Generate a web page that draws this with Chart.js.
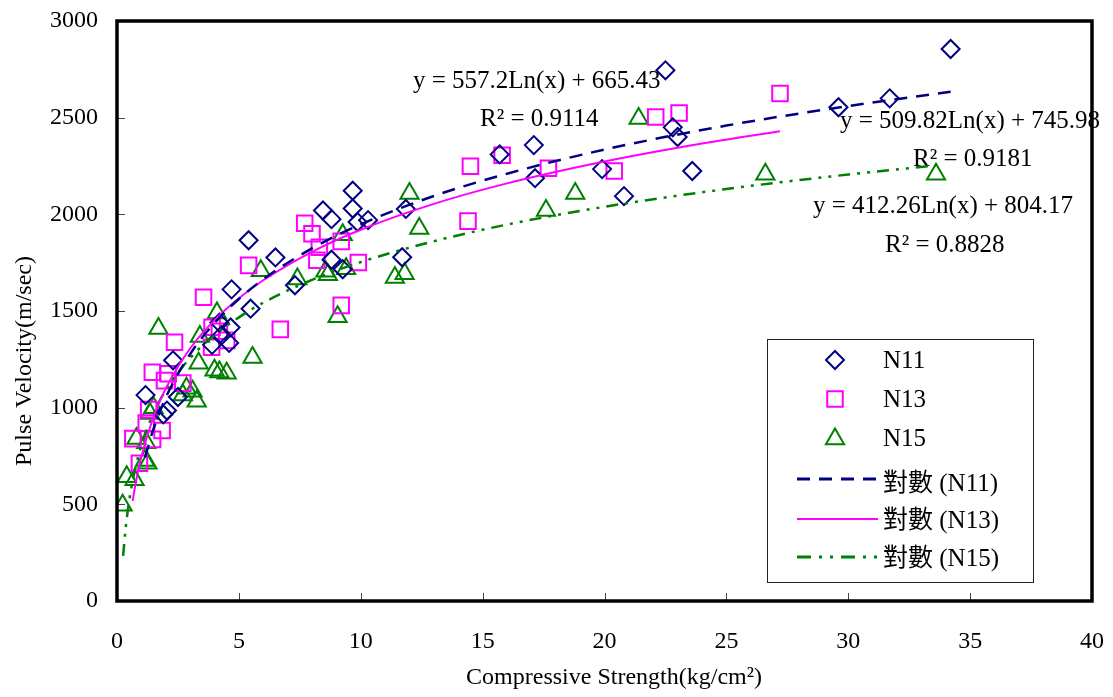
<!DOCTYPE html>
<html lang="zh-Hant">
<head>
  <meta charset="UTF-8" />
  <title>Pulse Velocity vs Compressive Strength</title>
  <script src="https://cdn.jsdelivr.net/npm/chart.js"></script>
  <style>
    html, body { margin: 0; padding: 0; background: #fff; }
    canvas { display: block; }
  </style>
</head>
<body>
<canvas id="mainChart" width="1113" height="697"></canvas>

<script>
  // measured points, compressive strength (kg/cm2) vs pulse velocity (m/sec)
  const n11X = [1.17, 1.9, 2.05, 2.5, 2.3, 3.9, 4.2, 4.66, 4.6, 4.3, 4.7, 5.48, 5.4, 6.5, 7.3, 8.45, 8.8, 8.8, 9.26, 9.67, 9.67, 9.87, 10.3, 11.7, 11.85, 15.7, 17.1, 17.15, 19.9, 20.8, 22.5, 22.8, 23.0, 23.6, 29.6, 31.7, 34.2];
  const n11Y = [1065, 965, 985, 1055, 1245, 1325, 1440, 1415, 1335, 1375, 1612, 1512, 1866, 1777, 1633, 2020, 1975, 1765, 1716, 2122, 2030, 1960, 1970, 1778, 2028, 2310, 2358, 2187, 2234, 2094, 2745, 2450, 2400, 2224, 2554, 2600, 2855];

  const n13X = [0.65, 0.92, 1.2, 1.3, 1.46, 1.45, 1.85, 1.95, 2.1, 2.7, 2.36, 3.55, 3.9, 3.88, 4.5, 4.2, 5.4, 6.7, 7.7, 8.0, 8.3, 8.2, 9.2, 9.2, 9.9, 14.4, 14.5, 15.8, 17.7, 20.4, 22.1, 23.06, 27.2];
  const n13Y = [840, 712, 920, 990, 836, 1183, 882, 1140, 1175, 1127, 1338, 1571, 1416, 1313, 1348, 1395, 1736, 1405, 1954, 1900, 1830, 1762, 1860, 1529, 1751, 1965, 2249, 2306, 2238, 2224, 2503, 2524, 2625];

  const n15X = [0.23, 0.4, 0.72, 0.8, 1.15, 1.25, 1.2, 1.35, 1.5, 1.7, 2.7, 2.85, 3.1, 3.27, 3.35, 3.4, 4.0, 4.2, 4.5, 4.1, 5.56, 5.9, 7.4, 8.55, 8.65, 9.05, 9.26, 9.4, 11.4, 11.8, 12.0, 12.4, 17.6, 18.8, 21.4, 26.6, 33.6];
  const n15Y = [495, 643, 627, 840, 727, 712, 818, 970, 1000, 1410, 1066, 1100, 1085, 1033, 1230, 1368, 1193, 1185, 1178, 1490, 1260, 1708, 1665, 1705, 1688, 1470, 1895, 1718, 1673, 1693, 2108, 1927, 2020, 2108, 2496, 2207, 2207];

  // log trendlines
  const trend11X = [1.15, 1.5, 2, 3, 4, 5, 6, 8, 10, 13, 16, 20, 25, 30, 34.2];
  const trend11Y = [743, 891, 1052, 1277, 1438, 1562, 1664, 1824, 1948, 2095, 2210, 2335, 2459, 2560, 2634];
  const trend13X = [0.64, 0.8, 1, 1.5, 2, 3, 4, 5, 6, 8, 10, 13, 16, 20, 24, 27.2];
  const trend13Y = [518, 632, 746, 953, 1099, 1306, 1453, 1566, 1659, 1806, 1920, 2054, 2160, 2273, 2366, 2430];
  const trend15X = [0.25, 0.35, 0.5, 0.75, 1, 1.5, 2, 3, 4, 5, 6, 8, 10, 13, 16, 20, 25, 30, 33.6];
  const trend15Y = [233, 371, 518, 685, 804, 971, 1090, 1257, 1375, 1467, 1543, 1661, 1753, 1861, 1947, 2039, 2131, 2206, 2253];

  const xTicks = [0, 5, 10, 15, 20, 25, 30, 35, 40];
  const yTicks = [0, 500, 1000, 1500, 2000, 2500, 3000];

  const seriesNames = ['N11', 'N13', 'N15'];
  const trendNames = ['對數 (N11)', '對數 (N13)', '對數 (N15)'];
  const equationTexts = ['y = 557.2Ln(x) + 665.43', 'R² = 0.9114',
                         'y = 509.82Ln(x) + 745.98', 'R² = 0.9181',
                         'y = 412.26Ln(x) + 804.17', 'R² = 0.8828'];
  const xTitle = 'Compressive Strength(kg/cm²)';
  const yTitle = 'Pulse Velocity(m/sec)';

  const FONT = '"Liberation Serif", "Times New Roman", "Noto Sans CJK TC", serif';
  const NAVY = '#000080', MAGENTA = '#FF00FF', GREEN = '#008000';

  const zip = (xs, ys) => xs.map((x, i) => ({ x, y: ys[i] }));

  function marker(ctx, style, x, y, r, color) {
    ctx.save();
    ctx.strokeStyle = color;
    ctx.lineWidth = 2;
    ctx.beginPath();
    if (style === 'rectRot') {
      ctx.moveTo(x, y - r); ctx.lineTo(x + r, y); ctx.lineTo(x, y + r); ctx.lineTo(x - r, y);
    } else if (style === 'rect') {
      const s = Math.SQRT1_2 * r;
      ctx.rect(x - s, y - s, 2 * s, 2 * s);
    } else {
      ctx.moveTo(x, y - r);
      ctx.lineTo(x + r * Math.sin(2 * Math.PI / 3), y + r / 2);
      ctx.lineTo(x - r * Math.sin(2 * Math.PI / 3), y + r / 2);
    }
    ctx.closePath();
    ctx.stroke();
    ctx.restore();
  }

  const decor = {
    id: 'decor',
    beforeDatasetsDraw(chart) {
      const ctx = chart.ctx;
      ctx.save();
      ctx.font = '25px ' + FONT;
      ctx.fillStyle = '#000';
      ctx.textAlign = 'left';
      ctx.textBaseline = 'alphabetic';
      const spots = [[413, 88], [480, 126], [840, 128], [913, 166], [813, 213], [885, 252]];
      equationTexts.forEach((t, i) => ctx.fillText(t, spots[i][0], spots[i][1]));
      ctx.restore();
    },
    afterDraw(chart) {
      const ctx = chart.ctx;
      const a = chart.chartArea;
      const xs = chart.scales.x, ys = chart.scales.y;
      ctx.save();

      // inward tick marks
      ctx.strokeStyle = '#444';
      ctx.lineWidth = 1;
      ctx.beginPath();
      xTicks.slice(1, -1).forEach(v => {
        const px = Math.round(xs.getPixelForValue(v)) + 0.5;
        ctx.moveTo(px, a.bottom); ctx.lineTo(px, a.bottom - 8);
      });
      yTicks.slice(1, -1).forEach(v => {
        const py = Math.round(ys.getPixelForValue(v)) + 0.5;
        ctx.moveTo(a.left, py); ctx.lineTo(a.left + 8, py);
      });
      ctx.stroke();

      // plot frame
      ctx.strokeStyle = '#000';
      ctx.lineWidth = 3.5;
      ctx.strokeRect(a.left, a.top, a.right - a.left, a.bottom - a.top);

      // axis titles
      ctx.fillStyle = '#000';
      ctx.font = '24px ' + FONT;
      ctx.textAlign = 'center';
      ctx.textBaseline = 'alphabetic';
      ctx.fillText(xTitle, 614, 684);
      ctx.save();
      ctx.translate(31, 361);
      ctx.rotate(-Math.PI / 2);
      ctx.fillText(yTitle, 0, 0);
      ctx.restore();

      // legend
      ctx.fillStyle = '#fff';
      ctx.fillRect(767, 339, 266, 243);
      ctx.strokeStyle = '#222';
      ctx.lineWidth = 1;
      ctx.strokeRect(767.5, 339.5, 266, 243);

      ctx.font = '25px ' + FONT;
      ctx.textAlign = 'left';
      ctx.fillStyle = '#000';
      const styles = [['rectRot', 9, NAVY], ['rect', 11, MAGENTA], ['triangle', 10.5, GREEN]];
      const markY = [360, 399, 439];
      const textY = [368, 407, 446];
      seriesNames.forEach((n, i) => {
        marker(ctx, styles[i][0], 835, markY[i], styles[i][1], styles[i][2]);
        ctx.fillText(n, 883, textY[i]);
      });
      const dashes = [[13, 9], [], [14, 8, 3, 8, 3, 8]];
      const lineColors = [NAVY, MAGENTA, GREEN];
      const lineY = [479, 519, 557];
      const lineTextY = [491, 528, 566];
      trendNames.forEach((n, i) => {
        ctx.save();
        ctx.strokeStyle = lineColors[i];
        ctx.lineWidth = i === 1 ? 2 : 3;
        ctx.setLineDash(dashes[i]);
        ctx.beginPath();
        ctx.moveTo(797, lineY[i]); ctx.lineTo(878, lineY[i]);
        ctx.stroke();
        ctx.restore();
        ctx.fillText(n, 883, lineTextY[i]);
      });
      ctx.restore();
    }
  };

  const pointSet = (label, xs, ys, style, r, color) => ({
    type: 'scatter', label, data: zip(xs, ys), order: 2,
    pointStyle: style, pointRadius: r, borderColor: color, borderWidth: 2,
    backgroundColor: 'rgba(0,0,0,0)', showLine: false
  });
  const trendSet = (label, xs, ys, color, dash, width) => ({
    type: 'line', label, data: zip(xs, ys), order: 1,
    borderColor: color, borderWidth: width, borderDash: dash,
    pointRadius: 0, fill: false, cubicInterpolationMode: 'monotone'
  });

  const tickFont = { family: FONT, size: 24 };

  new Chart(document.getElementById('mainChart').getContext('2d'), {
    type: 'scatter',
    data: {
      datasets: [
        pointSet(seriesNames[0], n11X, n11Y, 'rectRot', 9, NAVY),
        pointSet(seriesNames[1], n13X, n13Y, 'rect', 11, MAGENTA),
        pointSet(seriesNames[2], n15X, n15Y, 'triangle', 10.5, GREEN),
        trendSet(trendNames[0], trend11X, trend11Y, NAVY, [13, 9], 2.5),
        trendSet(trendNames[1], trend13X, trend13Y, MAGENTA, [], 2),
        trendSet(trendNames[2], trend15X, trend15Y, GREEN, [12, 7, 3, 7, 3, 7], 2.5)
      ]
    },
    options: {
      responsive: false,
      animation: false,
      events: [],
      layout: { padding: { top: 21, right: 21, left: 0, bottom: 0 } },
      plugins: { legend: { display: false }, tooltip: { enabled: false } },
      scales: {
        x: {
          type: 'linear', min: 0, max: 40,
          grid: { display: false, drawTicks: false },
          border: { display: false },
          ticks: { font: tickFont, color: '#000', padding: 26, maxRotation: 0, callback: v => String(v) },
          afterBuildTicks: s => { s.ticks = xTicks.map(v => ({ value: v })); },
          afterFit: s => { s.height = 96; s.paddingLeft = 0; s.paddingRight = 0; }
        },
        y: {
          type: 'linear', min: 0, max: 3000,
          grid: { display: false, drawTicks: false },
          border: { display: false },
          ticks: { font: tickFont, color: '#000', padding: 19, callback: v => String(v) },
          afterBuildTicks: s => { s.ticks = yTicks.map(v => ({ value: v })); },
          afterFit: s => { s.width = 117; s.paddingTop = 0; s.paddingBottom = 0; }
        }
      }
    },
    plugins: [decor]
  });
</script>
</body>
</html>
